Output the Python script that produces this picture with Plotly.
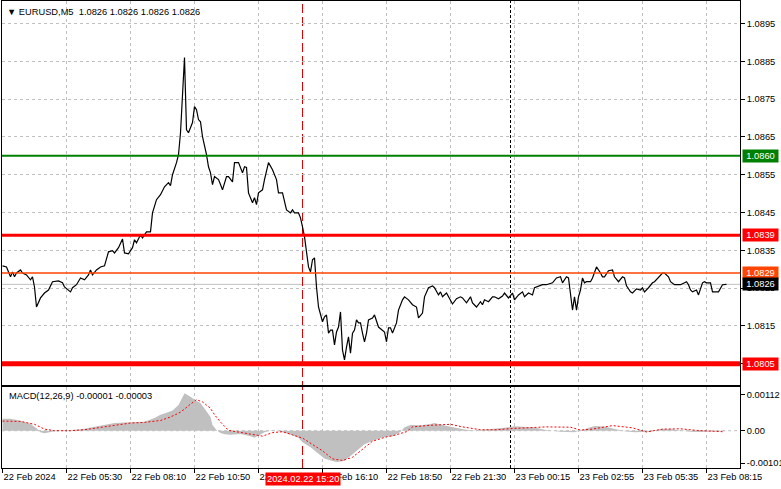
import plotly.graph_objects as go

# ---------------- data ----------------
# (bar number from left edge, close price) – M5 bars, EURUSD
price_points = [
    (0, 1.08309), (2, 1.08306), (4, 1.08280), (5, 1.08293), (6, 1.08280), (7, 1.08290), (9, 1.08298),
    (10, 1.08290), (12, 1.08285), (14, 1.08272), (15, 1.08280), (16, 1.08253), (17, 1.08200), (18, 1.08214),
    (19, 1.08224), (21, 1.08237), (23, 1.08245), (25, 1.08267), (28, 1.08269), (30, 1.08264), (31, 1.08253),
    (34, 1.08240), (35, 1.08251), (37, 1.08259), (39, 1.08277), (41, 1.08272), (43, 1.08285), (44, 1.08298),
    (45, 1.08285), (47, 1.08298), (49, 1.08306), (51, 1.08309), (53, 1.08346), (55, 1.08349), (56, 1.08343),
    (58, 1.08357), (60, 1.08380), (61, 1.08343), (63, 1.08341), (65, 1.08357), (66, 1.08378), (67, 1.08370),
    (69, 1.08391), (70, 1.08383), (72, 1.08399), (74, 1.08399), (75, 1.08449), (77, 1.08484), (79, 1.08497),
    (81, 1.08518), (83, 1.08529), (84, 1.08521), (85, 1.08550), (87, 1.08582), (88, 1.08603), (89, 1.08661),
    (90, 1.08775), (91, 1.08860), (92, 1.08669), (93, 1.08661), (95, 1.08688), (96, 1.08730), (97, 1.08722),
    (98, 1.08696), (99, 1.08690), (100, 1.08651), (102, 1.08603), (103, 1.08571), (104, 1.08555), (105, 1.08524),
    (106, 1.08545), (108, 1.08537), (109, 1.08524), (110, 1.08510), (112, 1.08545), (113, 1.08545), (115, 1.08531),
    (116, 1.08582), (118, 1.08582), (120, 1.08555), (121, 1.08571), (122, 1.08569), (123, 1.08502), (125, 1.08476),
    (126, 1.08489), (127, 1.08471), (128, 1.08502), (130, 1.08510), (131, 1.08537), (133, 1.08582), (135, 1.08563),
    (137, 1.08537), (138, 1.08502), (140, 1.08502), (142, 1.08457), (144, 1.08449), (145, 1.08457), (146, 1.08449),
    (148, 1.08449), (149, 1.08436), (150, 1.08412), (151, 1.08386), (153, 1.08306), (154, 1.08293), (155, 1.08325),
    (156, 1.08330), (157, 1.08253), (158, 1.08200), (160, 1.08161), (161, 1.08174), (162, 1.08179), (163, 1.08131),
    (164, 1.08139), (165, 1.08139), (166, 1.08100), (167, 1.08134), (168, 1.08147), (169, 1.08187), (170, 1.08086),
    (171, 1.08060), (172, 1.08094), (173, 1.08121), (174, 1.08078), (175, 1.08131), (176, 1.08139), (177, 1.08166),
    (178, 1.08158), (179, 1.08158), (180, 1.08131), (181, 1.08108), (182, 1.08131), (183, 1.08166), (185, 1.08171),
    (186, 1.08179), (188, 1.08147), (190, 1.08139), (191, 1.08134), (192, 1.08108), (193, 1.08145), (194, 1.08145),
    (195, 1.08131), (197, 1.08158), (198, 1.08192), (200, 1.08219), (201, 1.08227), (203, 1.08219), (205, 1.08206),
    (207, 1.08200), (208, 1.08171), (210, 1.08184), (211, 1.08227), (213, 1.08251), (215, 1.08256), (216, 1.08251),
    (218, 1.08232), (219, 1.08240), (220, 1.08227), (222, 1.08237), (223, 1.08227), (225, 1.08208), (227, 1.08222),
    (229, 1.08227), (230, 1.08224), (232, 1.08211), (234, 1.08227), (235, 1.08211), (237, 1.08200), (239, 1.08214),
    (240, 1.08206), (241, 1.08219), (243, 1.08214), (245, 1.08227), (246, 1.08227), (248, 1.08222), (250, 1.08229),
    (251, 1.08237), (253, 1.08224), (255, 1.08237), (256, 1.08219), (258, 1.08232), (260, 1.08240), (261, 1.08227),
    (263, 1.08237), (265, 1.08232), (266, 1.08251), (267, 1.08253), (270, 1.08259), (272, 1.08259), (275, 1.08264),
    (277, 1.08277), (279, 1.08280), (280, 1.08264), (282, 1.08280), (283, 1.08277), (284, 1.08237), (285, 1.08192),
    (286, 1.08227), (287, 1.08192), (288, 1.08227), (289, 1.08245), (290, 1.08277), (291, 1.08264), (292, 1.08267),
    (294, 1.08267), (295, 1.08277), (296, 1.08293), (297, 1.08306), (299, 1.08290), (300, 1.08280), (301, 1.08280),
    (302, 1.08290), (303, 1.08296), (305, 1.08298), (306, 1.08280), (308, 1.08267), (310, 1.08280), (311, 1.08277),
    (312, 1.08256), (314, 1.08240), (315, 1.08237), (317, 1.08248), (319, 1.08245), (320, 1.08251), (321, 1.08240),
    (323, 1.08251), (325, 1.08264), (326, 1.08267), (328, 1.08280), (330, 1.08290), (331, 1.08290), (333, 1.08280),
    (334, 1.08267), (336, 1.08259), (337, 1.08259), (339, 1.08259), (341, 1.08264), (342, 1.08267), (343, 1.08259),
    (344, 1.08245), (345, 1.08240), (347, 1.08245), (348, 1.08232), (350, 1.08264), (351, 1.08267), (352, 1.08264),
    (354, 1.08264), (355, 1.08240), (358, 1.08240), (360, 1.08259), (362, 1.08260),
]

# MACD main (histogram) and signal, sampled at bar numbers
macd_hist_points = [
    (0, 0.00037), (4, 0.00037), (9, 0.00031), (14, 0.00021), (17, 0.00008), (19, -0.00005), (21, -0.00008),
    (24, -0.00005), (26, -0.00002), (31, 0.0), (36, 0.00002), (41, 0.00006), (46, 0.00012), (51, 0.00018),
    (56, 0.00024), (61, 0.00026), (66, 0.00026), (71, 0.00028), (76, 0.00040), (79, 0.00050), (82, 0.00056),
    (85, 0.00063), (88, 0.00080), (90, 0.00105), (91, 0.00117), (94, 0.00106), (96, 0.00097), (99, 0.00087),
    (101, 0.00068), (104, 0.00043), (105, 0.00018), (107, 0.00002), (109, -0.00007), (111, -0.00011),
    (114, -0.00013), (119, -0.00010), (124, -0.00017), (126, -0.00022), (129, -0.00012), (131, -0.00005),
    (135, 0.00002), (139, -0.00003), (144, -0.00012), (148, -0.00023), (150, -0.00036), (154, -0.00052),
    (158, -0.00072), (161, -0.00087), (164, -0.00093), (167, -0.00098), (171, -0.00095), (174, -0.00080),
    (176, -0.00067), (179, -0.00052), (181, -0.00042), (185, -0.00032), (189, -0.00023), (192, -0.00019),
    (195, -0.00017), (199, -0.00004), (201, 0.00011), (204, 0.00018), (209, 0.00017), (214, 0.00021),
    (216, 0.00024), (221, 0.00016), (226, 0.00010), (231, 0.00004), (236, 0.00001), (241, 0.00003),
    (246, 0.00005), (251, 0.00009), (256, 0.00014), (261, 0.00013), (266, 0.00010), (271, 0.00003),
    (279, -0.00003), (286, -0.00005), (291, 0.00005), (296, 0.00015), (301, 0.00013), (306, 0.00006),
    (311, -0.00002), (316, -0.00005), (324, -0.00003), (329, 0.00005), (334, 0.00005), (339, 0.00001),
    (344, -0.00003), (349, -0.00004), (356, -0.00003), (362, -0.00001),
]
macd_signal_points = [
    (0, 0.00030), (9, 0.00029), (16, 0.00020), (21, 0.00005), (26, 0.0), (34, 0.0), (41, 0.00003),
    (49, 0.00010), (56, 0.00017), (64, 0.00024), (71, 0.00026), (79, 0.00032), (84, 0.00043), (89, 0.00058),
    (94, 0.00083), (97, 0.00097), (100, 0.00090), (104, 0.00070), (106, 0.00050), (109, 0.00027),
    (113, 0.00001), (119, -0.00005), (126, -0.00012), (130, -0.00017), (135, -0.00006), (140, -0.00003),
    (145, -0.00013), (150, -0.00023), (155, -0.00043), (160, -0.00063), (165, -0.00088), (170, -0.00093),
    (175, -0.00083), (180, -0.00058), (185, -0.00033), (192, -0.00019), (195, -0.00016), (202, -0.00003),
    (205, 0.00012), (214, 0.00017), (224, 0.00020), (230, 0.00012), (239, 0.00003), (247, 0.00003),
    (255, 0.00007), (272, 0.00012), (284, 0.00011), (289, 0.00002), (295, 0.00005), (305, 0.00016),
    (315, 0.00009), (322, -0.00004), (330, 0.00005), (339, 0.00006), (347, 0.00001), (360, -0.00003),
]

price_tick_values = [1.0805, 1.0815, 1.0825, 1.0835, 1.0845, 1.0855, 1.0865, 1.0875, 1.0885, 1.0895]
time_tick_bars = [0, 32, 64, 96, 128, 160, 192, 224, 256, 288, 320, 352]
time_tick_labels = ["22 Feb 2024", "22 Feb 05:30", "22 Feb 08:10", "22 Feb 10:50", "22 Feb 13:30",
                    "22 Feb 16:10", "22 Feb 18:50", "22 Feb 21:30", "23 Feb 00:15", "23 Feb 02:55",
                    "23 Feb 05:35", "23 Feb 08:15"]
macd_tick_values = [0.00112, 0.0, -0.00101]
macd_tick_labels = ["0.00112", "0.00", "-0.00101"]

resistance_level = 1.0860
pivot_level = 1.0839
support_level = 1.0805
ask_level = 1.0829
bid_level = 1.0826
marked_bar = 150          # 2024.02.22 15:20
marked_label = "2024.02.22 15:20"
day_separator_bar = 254   # 23 Feb 00:00

# ---------------- figure ----------------
bar_index = [p[0] for p in price_points]
close = [p[1] for p in price_points]
hist_x = [p[0] for p in macd_hist_points]
hist_y = [p[1] for p in macd_hist_points]
sig_x = [p[0] for p in macd_signal_points]
sig_y = [p[1] for p in macd_signal_points]

FONT = "Liberation Sans"
FS = 9.3
GRID = "#C0C0C0"
X_RANGE = [-0.25, 368.75]

fig = go.Figure()
fig.add_trace(go.Scatter(x=hist_x, y=hist_y, xaxis="x2", yaxis="y2", mode="lines",
                         fill="tozeroy", fillcolor=GRID, line=dict(width=0, color=GRID),
                         hoverinfo="skip"))
fig.add_trace(go.Scatter(x=sig_x, y=sig_y, xaxis="x2", yaxis="y2", mode="lines",
                         line=dict(color="#FF0000", width=1, dash="2px,2px")))
fig.add_trace(go.Scatter(x=bar_index, y=close, mode="lines",
                         line=dict(color="black", width=1.2)))

shapes = []
def hline(y, color, width, yref="y", dash="solid", layer="above"):
    shapes.append(dict(type="line", xref="paper", x0=0, x1=1, yref=yref, y0=y, y1=y,
                       line=dict(color=color, width=width, dash=dash), layer=layer))

hline(bid_level, GRID, 1, layer="between")
hline(ask_level, "#FF4500", 1.3)
hline(resistance_level, "#008000", 2)
hline(pivot_level, "#FF0000", 3)
hline(support_level, "#FF0000", 5)
hline(0, GRID, 1, yref="y2", dash="3px,3px", layer="between")

shapes.append(dict(type="line", xref="x", x0=marked_bar, x1=marked_bar, yref="paper", y0=0, y1=1,
                   line=dict(color="#E00000", width=1, dash="9px,4px"), layer="between"))
shapes.append(dict(type="line", xref="x", x0=day_separator_bar, x1=day_separator_bar, yref="paper",
                   y0=0, y1=1, line=dict(color="black", width=1, dash="3px,2px"), layer="between"))

annotations = []
def price_tag(y, text, bg):
    annotations.append(dict(xref="paper", x=1, xanchor="left", xshift=2, yref="y", y=y,
                            yanchor="middle", text=text, showarrow=False, bgcolor=bg,
                            font=dict(family=FONT, size=FS, color="white"),
                            width=33, height=10, borderpad=1))

price_tag(resistance_level, f"{resistance_level:.4f}", "#008000")
price_tag(pivot_level, f"{pivot_level:.4f}", "#FF0000")
price_tag(ask_level, f"{ask_level:.4f}", "#FF4500")
price_tag(bid_level, f"{bid_level:.4f}", "#000000")
price_tag(support_level, f"{support_level:.4f}", "#FF0000")

annotations.append(dict(xref="x2", x=marked_bar, xanchor="center", yref="paper", y=-0.0236,
                        yanchor="middle", text=marked_label, showarrow=False, bgcolor="#FF0000",
                        font=dict(family=FONT, size=FS, color="white"), borderpad=1))
bid_txt = f"{bid_level:.4f}"
annotations.append(dict(xref="paper", x=0, xanchor="left", xshift=3, yref="paper", y=1,
                        yanchor="top", yshift=-4,
                        text="\u25BC EURUSD,M5\u00a0\u00a0" + " ".join([bid_txt] * 4),
                        showarrow=False, font=dict(family=FONT, size=FS, color="black")))
annotations.append(dict(xref="paper", x=0, xanchor="left", xshift=5, yref="paper", y=0.1734,
                        yanchor="top", yshift=-2,
                        text="MACD(12,26,9) -0.00001 -0.00003",
                        showarrow=False, font=dict(family=FONT, size=FS, color="black")))

axis_common = dict(showline=True, mirror=True, linecolor="black", linewidth=1, zeroline=False,
                   automargin=False, tickfont=dict(family=FONT, size=FS, color="black"))

fig.update_layout(
    template="none",
    width=781, height=489,
    margin=dict(l=2, r=41, t=1, b=21),
    paper_bgcolor="white", plot_bgcolor="white",
    showlegend=False,
    shapes=shapes, annotations=annotations,
    xaxis=dict(domain=[0, 1], anchor="y", range=X_RANGE, tickvals=time_tick_bars,
               showticklabels=False, ticks="", showgrid=True, gridcolor=GRID, griddash="3px,3px",
               gridwidth=1, **axis_common),
    xaxis2=dict(domain=[0, 1], anchor="y2", matches="x", range=X_RANGE, tickvals=time_tick_bars,
                ticktext=time_tick_labels, ticks="outside", ticklen=4, tickcolor="black",
                ticklabelposition="outside right", showgrid=True, gridcolor=GRID,
                griddash="3px,3px", gridwidth=1, **axis_common),
    yaxis=dict(domain=[0.1788, 1], anchor="x", side="right", range=[1.07995, 1.090096],
               tickvals=price_tick_values, ticktext=[f"{v:.4f}" for v in price_tick_values],
               ticks="outside", ticklen=4, tickcolor="black", showgrid=True, gridcolor=GRID,
               griddash="3px,3px", gridwidth=1, **axis_common),
    yaxis2=dict(domain=[0, 0.1734], anchor="x2", side="right", range=[-0.001166, 0.001366],
                tickvals=macd_tick_values, ticktext=macd_tick_labels, ticks="outside", ticklen=4,
                tickcolor="black", showgrid=False, **axis_common),
)

fig.write_html("out.html", config={"displayModeBar": False, "staticPlot": True},
               post_script="document.body.style.margin='0';document.body.style.padding='0';")
